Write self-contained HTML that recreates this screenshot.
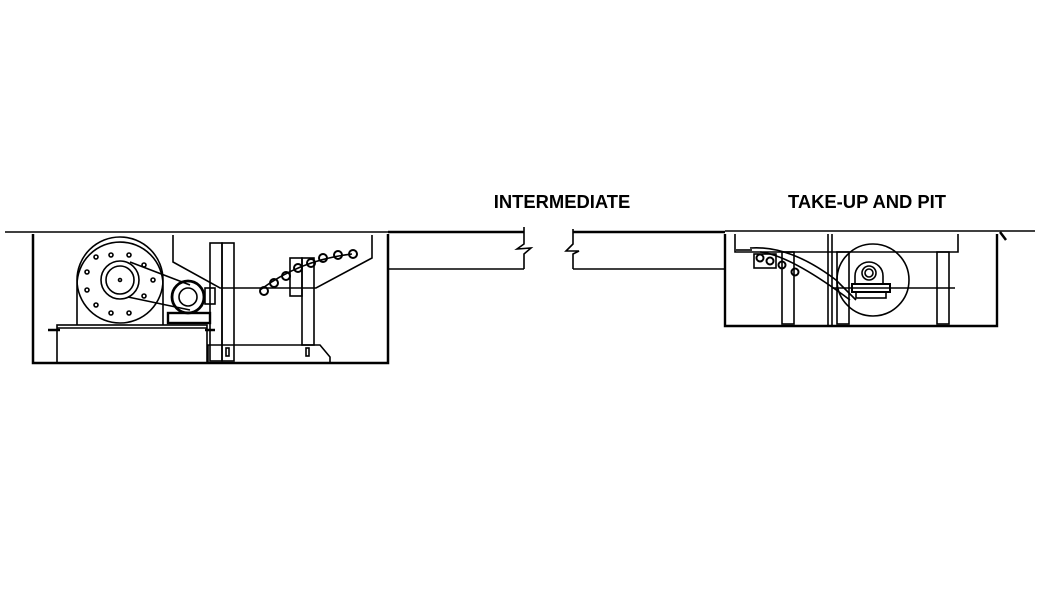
<!DOCTYPE html>
<html><head><style>body{margin:0;background:#fff}svg{display:block}</style></head><body>
<svg width="1047" height="589" viewBox="0 0 1047 589" xmlns="http://www.w3.org/2000/svg" fill="none" stroke="#000" stroke-width="1.6">
<text x="562" y="208" font-family="Liberation Sans, sans-serif" font-weight="bold" font-size="18.4" fill="#000" stroke="none" text-anchor="middle">INTERMEDIATE</text>
<text x="867" y="208" font-family="Liberation Sans, sans-serif" font-weight="bold" font-size="18.4" fill="#000" stroke="none" text-anchor="middle">TAKE-UP AND PIT</text>
<!-- left section -->
<line x1="5" y1="232" x2="395" y2="232"/>
<path d="M33 234 V363 H388 V234" stroke-width="2.5"/>
<line x1="388" y1="232" x2="524" y2="232" stroke-width="2.5"/>
<line x1="388" y1="269" x2="524" y2="269"/>
<path d="M524 227 V244 L517 249 L531 248 L524 254 V269"/>
<path d="M573 229 V244 L566 251 L579 251 L573 254 V269"/>
<line x1="573" y1="232" x2="725" y2="232" stroke-width="2.5"/>
<line x1="573" y1="269" x2="725" y2="269"/>
<!-- drive -->
<path d="M77 325 V285 A43 43 0 0 1 163 285 V325"/>
<circle cx="120" cy="280" r="43"/>
<circle cx="120" cy="280" r="19"/><circle cx="120" cy="280" r="14"/><circle cx="120" cy="280" r="1.5"/>
<g><circle cx="111" cy="255" r="2"/><circle cx="129" cy="255" r="2"/><circle cx="144" cy="265" r="2"/><circle cx="153" cy="280" r="2"/><circle cx="144" cy="296" r="2"/><circle cx="129" cy="313" r="2"/><circle cx="111" cy="313" r="2"/><circle cx="96" cy="305" r="2"/><circle cx="87" cy="290" r="2"/><circle cx="87" cy="272" r="2"/><circle cx="96" cy="257" r="2"/></g>
<line x1="130" y1="262" x2="190" y2="285"/><line x1="128" y1="297" x2="190" y2="310"/>
<circle cx="188" cy="297" r="16" stroke-width="2.8"/><circle cx="188" cy="297" r="9"/>
<rect x="205" y="288" width="10" height="16"/>
<rect x="168" y="313" width="42" height="10" stroke-width="2.4"/>
<rect x="57" y="325" width="150" height="38"/><line x1="57" y1="328" x2="207" y2="328"/>
<line x1="48" y1="330" x2="60" y2="330" stroke-width="2.5"/><line x1="205" y1="330" x2="215" y2="330" stroke-width="2.5"/>
<!-- hopper -->
<path d="M173 235 V262 L220 288 L316 288 L372 258 V235"/>
<rect x="210" y="243" width="12" height="118"/><rect x="222" y="243" width="12" height="118"/>
<path d="M208 345 H320 L330 357 V363 H208 Z"/>
<rect x="226" y="348" width="3" height="8"/><rect x="306" y="348" width="3" height="8"/>
<rect x="290" y="258" width="12" height="38"/><rect x="302" y="258" width="12" height="87"/>
<path d="M260 290 Q300 260 352 254"/>
<g stroke-width="2"><circle cx="264" cy="291" r="4"/><circle cx="274" cy="283" r="4"/><circle cx="286" cy="276" r="4"/><circle cx="298" cy="268" r="4"/><circle cx="311" cy="263" r="4"/><circle cx="323" cy="258" r="4"/><circle cx="338" cy="255" r="4"/><circle cx="353" cy="254" r="4"/></g>
<!-- right section -->
<line x1="725" y1="231" x2="1035" y2="231"/>
<path d="M725 234 V326 H997 V234" stroke-width="2.4"/>
<path d="M735 234 V252 H958 V234"/>
<line x1="832" y1="234" x2="832" y2="326"/><line x1="828" y1="234" x2="828" y2="326"/>
<line x1="736" y1="250" x2="752" y2="250"/>
<rect x="754" y="254" width="22" height="14"/>
<path d="M750 248 Q790 245 836 280 L856 300"/><path d="M760 252 Q790 255 850 300"/>
<g stroke-width="2"><circle cx="760" cy="258" r="3.5"/><circle cx="770" cy="261" r="3.5"/><circle cx="782" cy="265" r="3.5"/><circle cx="795" cy="272" r="3.5"/></g>
<rect x="782" y="252" width="12" height="72"/><rect x="837" y="252" width="12" height="72"/><rect x="937" y="252" width="12" height="72"/>
<line x1="832" y1="288" x2="955" y2="288"/>
<circle cx="873" cy="280" r="36"/>
<path d="M855 284 V276 A14 14 0 0 1 883 276 V284"/>
<circle cx="869" cy="273" r="7"/><circle cx="869" cy="273" r="4"/>
<rect x="852" y="284" width="38" height="8" stroke-width="2"/><rect x="856" y="292" width="30" height="6"/>
<line x1="1000" y1="232" x2="1006" y2="240" stroke-width="2.5"/>
</svg>
</body></html>
